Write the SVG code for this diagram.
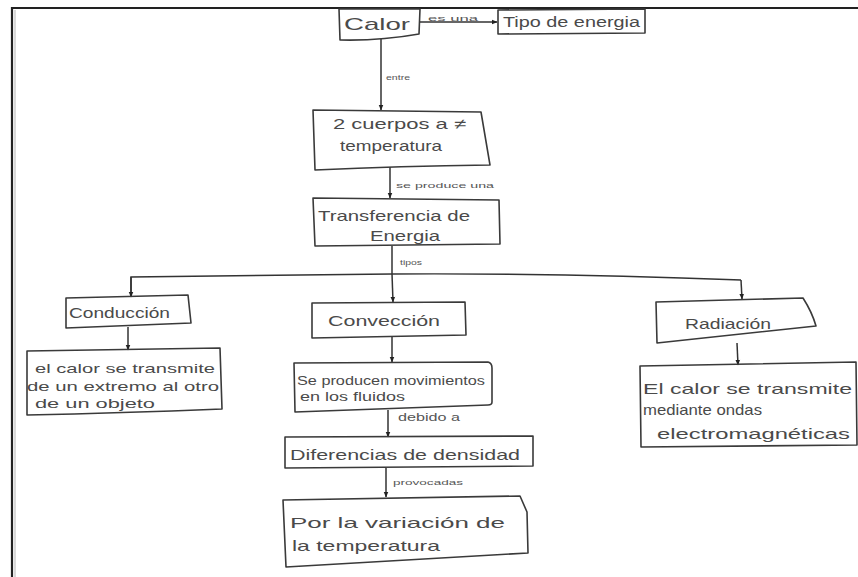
<svg xmlns="http://www.w3.org/2000/svg" width="858" height="577" viewBox="0 0 858 577">
<defs>
<marker id="ah" viewBox="0 0 10 10" refX="9" refY="5" markerWidth="6" markerHeight="6" orient="auto" markerUnits="userSpaceOnUse">
<path d="M0,1 L10,5 L0,9 z" fill="#222"/>
</marker>
</defs>
<style>
.box{fill:none;stroke:#3a3a3a;stroke-width:1.6;stroke-linejoin:round}
.t{font-family:"Liberation Sans",Arial,sans-serif;font-size:15px;fill:#4a4a4a}
.s{font-family:"Liberation Sans",Arial,sans-serif;font-size:8px;fill:#555}
.c{fill:none;stroke:#333;stroke-width:1.5}
</style>
<rect width="858" height="577" fill="#fff"/>
<path d="M12,577 L12,8 L858,8" fill="none" stroke="#222" stroke-width="2.2"/>
<path d="M15,10 L15,577" fill="none" stroke="#ccc" stroke-width="1.5"/>

<g id="connectors">
<path class="c" d="M419,22 L497,22" marker-end="url(#ah)"/>
<path class="c" d="M381,39 L381,110" marker-end="url(#ah)"/>
<path class="c" d="M390,167 L390,198" marker-end="url(#ah)"/>
<path class="c" d="M392,246 L392,274"/>
<path class="c" d="M131,296 L131,277 Q260,275 392,274 Q560,273 741,280"/>
<path class="c" d="M131,277 L131,297" marker-end="url(#ah)"/>
<path class="c" d="M392,274 L393,302" marker-end="url(#ah)"/>
<path class="c" d="M741,280 L742,299" marker-end="url(#ah)"/>
<path class="c" d="M128,327 L128,350" marker-end="url(#ah)"/>
<path class="c" d="M392,337 L392,362" marker-end="url(#ah)"/>
<path class="c" d="M388,410 L388,437" marker-end="url(#ah)"/>
<path class="c" d="M386,468 L386,497" marker-end="url(#ah)"/>
<path class="c" d="M737,343 L738,365" marker-end="url(#ah)"/>
<text class="s" x="428" y="21" textLength="50" lengthAdjust="spacingAndGlyphs">es una</text>
<text class="s" x="386" y="80" textLength="24" lengthAdjust="spacingAndGlyphs">entre</text>
<text class="s" x="396" y="188" textLength="98" lengthAdjust="spacingAndGlyphs">se produce una</text>
<text class="s" x="400" y="265" textLength="22" lengthAdjust="spacingAndGlyphs">tipos</text>
<text class="s" x="398" y="421" style="font-size:10px" textLength="62" lengthAdjust="spacingAndGlyphs">debido a</text>
<text class="s" x="393" y="485" textLength="70" lengthAdjust="spacingAndGlyphs">provocadas</text>
</g>

<g id="calor">
<path class="box" d="M339,9 L420,9 L419,34 Q380,41 340,40 Z"/>
<text class="t" x="344" y="30" style="font-size:17px" textLength="66" lengthAdjust="spacingAndGlyphs">Calor</text>
</g>
<g id="tipo-energia">
<path class="box" d="M498,10 L645,9 L645,33 L498,34 Z"/>
<text class="t" x="503" y="27" style="font-size:14px" textLength="137" lengthAdjust="spacingAndGlyphs">Tipo de energia</text>
</g>
<g id="cuerpos">
<path class="box" d="M313,110 L481,112 L490,165 Q400,166 315,170 Z"/>
<text class="t" x="333" y="129" textLength="133" lengthAdjust="spacingAndGlyphs">2 cuerpos a ≠</text>
<text class="t" x="340" y="151" textLength="102" lengthAdjust="spacingAndGlyphs">temperatura</text>
</g>
<g id="transferencia">
<path class="box" d="M313,198 L499,200 L500,244 L315,246 Z"/>
<text class="t" x="318" y="221" textLength="152" lengthAdjust="spacingAndGlyphs">Transferencia de</text>
<text class="t" x="370" y="241" textLength="70" lengthAdjust="spacingAndGlyphs">Energia</text>
</g>
<g id="conduccion">
<path class="box" d="M66,298 L188,295 L191,323 L66,328 Z"/>
<text class="t" x="69" y="318" textLength="101" lengthAdjust="spacingAndGlyphs">Conducción</text>
</g>
<g id="conveccion">
<path class="box" d="M312,303 L465,302 L466,335 L312,338 Z"/>
<text class="t" x="328" y="326" textLength="112" lengthAdjust="spacingAndGlyphs">Convección</text>
</g>
<g id="radiacion">
<path class="box" d="M656,302 L803,298 Q812,312 816,326 Q740,334 657,343 Z"/>
<text class="t" x="685" y="329" textLength="86" lengthAdjust="spacingAndGlyphs">Radiación</text>
</g>
<g id="conduccion-desc">
<path class="box" d="M27,351 L220,348 L222,409 Q120,413 27,415 Z"/>
<text class="t" x="35" y="373" style="font-size:13px" textLength="180" lengthAdjust="spacingAndGlyphs">el calor se transmite</text>
<text class="t" x="27" y="391" style="font-size:13px" textLength="192" lengthAdjust="spacingAndGlyphs">de un extremo al otro</text>
<text class="t" x="35" y="408" style="font-size:13px" textLength="120" lengthAdjust="spacingAndGlyphs">de un   objeto</text>
</g>
<g id="movimientos">
<path class="box" d="M294,363 L488,362 Q492,363 492,368 L492,402 Q492,405 488,405 L295,412 Z"/>
<text class="t" x="297" y="385" style="font-size:12px" textLength="188" lengthAdjust="spacingAndGlyphs">Se producen movimientos</text>
<text class="t" x="300" y="401" style="font-size:13px" textLength="105" lengthAdjust="spacingAndGlyphs">en los fluidos</text>
</g>
<g id="densidad">
<path class="box" d="M285,437 L533,436 L533,466 L285,468 Z"/>
<text class="t" x="290" y="460" textLength="230" lengthAdjust="spacingAndGlyphs">Diferencias de densidad</text>
</g>
<g id="variacion">
<path class="box" d="M283,500 L520,496 L527,512 L528,553 L286,567 Z"/>
<text class="t" x="290" y="528" textLength="215" lengthAdjust="spacingAndGlyphs">Por la variación de</text>
<text class="t" x="292" y="551" textLength="148" lengthAdjust="spacingAndGlyphs">la temperatura</text>
</g>
<g id="radiacion-desc">
<path class="box" d="M640,366 L856,362 L857,445 L641,447 Z"/>
<text class="t" x="643" y="394" textLength="209" lengthAdjust="spacingAndGlyphs">El calor se transmite</text>
<text class="t" x="643" y="415" textLength="119" lengthAdjust="spacingAndGlyphs">mediante ondas</text>
<text class="t" x="657" y="439" textLength="193" lengthAdjust="spacingAndGlyphs">electromagnéticas</text>
</g>
</svg>
